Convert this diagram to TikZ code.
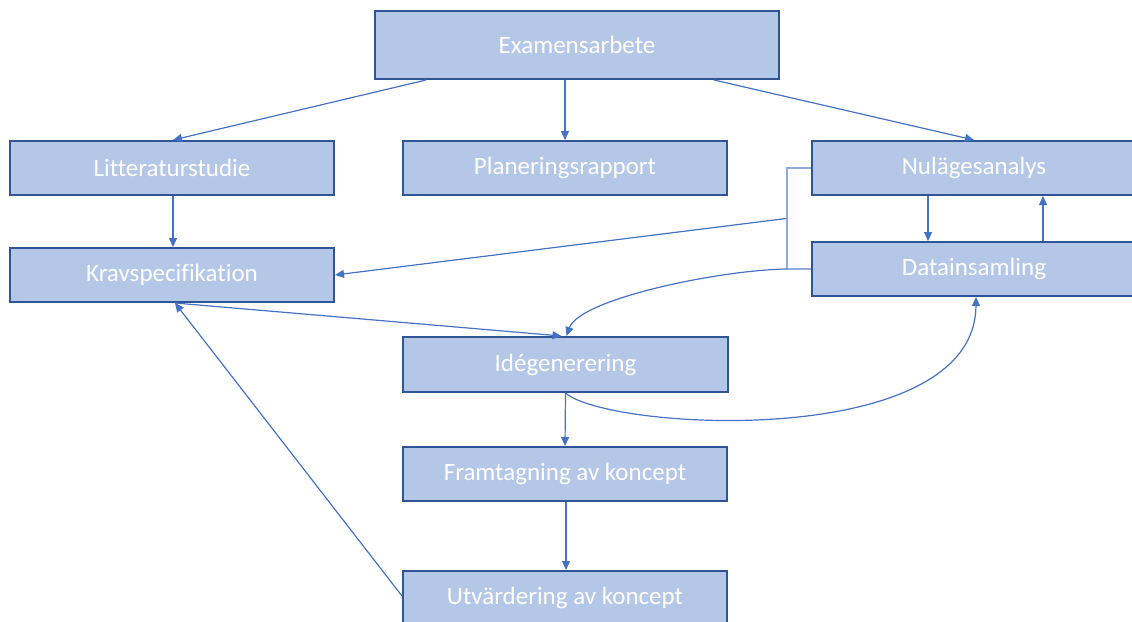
\documentclass[tikz,border=0pt]{standalone}
\usepackage{fontspec}
\setmainfont{Carlito}[Ligatures=NoCommon]
\usetikzlibrary{calc,arrows.meta}
\definecolor{boxfill}{HTML}{B4C7E7}
\definecolor{boxline}{HTML}{2F5597}
\definecolor{conncol}{HTML}{4472C4}
\definecolor{brackcol}{HTML}{8FAADC}
\tikzset{
  stepbox/.style={rectangle, draw=boxline, line width=2pt, fill=boxfill,
    minimum width=324pt, minimum height=54pt, inner sep=0pt,
    text=white, font=\fontsize{25}{29}\selectfont},
  conn/.style={draw=conncol, line width=1.2pt, -{Triangle[length=9pt,width=8pt]}},
  brack/.style={draw=brackcol, line width=1.4pt}
}
\begin{document}
\begin{tikzpicture}[x=1pt,y=-1pt]
\useasboundingbox (0,0) rectangle (1132,621);
\clip (0,0) rectangle (1132,621);
\node[stepbox, minimum width=404pt, minimum height=68pt] (ex) at (577,45) {Examensarbete};
\node[stepbox] (lit) at (172,168) {Litteraturstudie};
\node[stepbox] (plan) at (565,168) {Planeringsrapport};
\node[stepbox] (nul) at (974,168) {Nulägesanalys};
\node[stepbox] (krav) at (172,275) {Kravspecifikation};
\node[stepbox] (data) at (974,269) {Datainsamling};
\node[stepbox, minimum width=325pt, minimum height=55pt] (ide) at (565.5,364.5) {Idégenerering};
\node[stepbox] (fram) at (565,474) {Framtagning av koncept};
\node[stepbox] (utv) at (565,598) {Utvärdering av koncept};

% bracket around Nulägesanalys / Datainsamling
\coordinate (bt) at ($(nul.west)+(-24,0)$);
\coordinate (bb) at ($(data.west)+(-24,0)$);
\coordinate (bm) at ($(bt)!0.5!(bb)+(-1,0)$);
\draw[brack] (nul.west) -- (bt) -- (bb) -- (data.west);

\draw[conn] ($(ex.south west)+(52,0)$) -- ($(lit.north)+(1,0)$);
\draw[conn] (plan.north |- ex.south) -- (plan.north);
\draw[conn] ($(ex.south east)+(-66,0)$) -- (nul.north);
\draw[conn] ($(lit.south)+(1,0)$) -- ($(krav.north)+(1,0)$);
\draw[conn] ($(nul.south)+(-46,0)$) -- ($(data.north)+(-46,0)$);
\draw[conn] ($(data.north)+(69,0)$) -- ($(nul.south)+(69,0)$);
\draw[conn] (bm) -- (krav.east);
\draw[conn] (bb) .. controls ($(bb)+(-68,1)$) and ($(ide.north)+(14,-37)$) .. ($(ide.north)+(1,0)$);
\draw[conn] ($(krav.south)+(3,0)$) -- ($(ide.north)+(-4,0)$);
\draw[conn] (ide.south) .. controls ($(ide.south)+(44,38)$) and ($(data.south)+(1,154)$) .. ($(data.south)+(2,0)$);
\draw[conn] (ide.south) -- (fram.north);
\draw[conn] ($(fram.south)+(1,0)$) -- ($(utv.north)+(1,0)$);
\draw[conn] ($(utv.west)+(0,-2)$) -- ($(krav.south)+(3,0)$);
\end{tikzpicture}
\end{document}
